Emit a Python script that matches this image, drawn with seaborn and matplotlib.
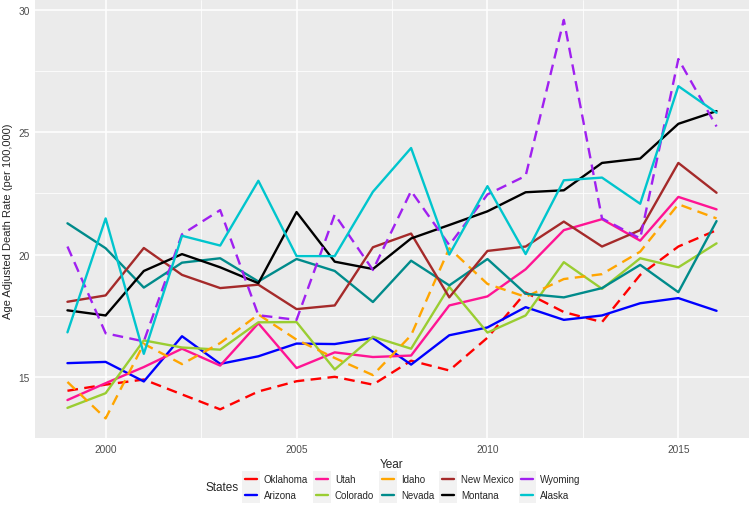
import matplotlib
matplotlib.use("Agg")
import matplotlib.pyplot as plt
from matplotlib.lines import Line2D
from matplotlib.patches import Rectangle
from matplotlib.legend_handler import HandlerLine2D
from matplotlib.ticker import MultipleLocator
import pandas as pd
import seaborn as sns

# values
years = [1999, 2000, 2001, 2002, 2003, 2004, 2005, 2006, 2007,
         2008, 2009, 2010, 2011, 2012, 2013, 2014, 2015, 2016]

oklahoma = [14.43, 14.68, 14.89, 14.28, 13.67, 14.40, 14.82, 15.00, 14.68,
            15.66, 15.26, 16.60, 18.45, 17.65, 17.24, 19.17, 20.33, 21.00]
arizona = [15.56, 15.61, 14.81, 16.66, 15.53, 15.84, 16.36, 16.34, 16.59,
           15.50, 16.70, 17.02, 17.85, 17.33, 17.51, 18.01, 18.22, 17.70]
utah = [14.05, 14.74, 15.40, 16.15, 15.46, 17.19, 15.36, 16.00, 15.81,
        15.87, 17.92, 18.29, 19.40, 21.00, 21.45, 20.57, 22.36, 21.85]
colorado = [13.73, 14.33, 16.49, 16.20, 16.11, 17.23, 17.24, 15.30, 16.64,
            16.15, 18.68, 16.81, 17.51, 19.69, 18.60, 19.85, 19.48, 20.46]
idaho = [14.79, 13.30, 16.35, 15.52, 16.38, 17.55, 16.52, 15.77, 15.07,
         16.70, 20.26, 18.80, 18.27, 19.00, 19.20, 20.12, 22.06, 21.48]
nevada = [21.28, 20.26, 18.65, 19.67, 19.85, 18.90, 19.82, 19.33, 18.06,
          19.75, 18.74, 19.82, 18.40, 18.25, 18.63, 19.58, 18.46, 21.37]
new_mexico = [18.07, 18.33, 20.27, 19.17, 18.63, 18.77, 17.77, 17.92, 20.30,
              20.86, 18.25, 20.15, 20.33, 21.35, 20.33, 21.00, 23.75, 22.53]
montana = [17.72, 17.51, 19.33, 20.02, 19.48, 18.83, 21.74, 19.71, 19.41,
           20.66, 21.21, 21.77, 22.55, 22.63, 23.75, 23.93, 25.35, 25.87]
wyoming = [20.33, 16.78, 16.45, 20.83, 21.82, 17.52, 17.33, 21.64, 19.37,
           22.60, 20.39, 22.46, 23.22, 29.60, 21.48, 20.66, 28.00, 25.24]
alaska = [16.82, 21.48, 15.94, 20.77, 20.37, 23.02, 19.94, 19.94, 22.57,
          24.36, 20.00, 22.80, 20.02, 23.04, 23.15, 22.08, 26.89, 25.80]

states = ["Oklahoma", "Arizona", "Utah", "Colorado", "Idaho",
          "Nevada", "New Mexico", "Montana", "Wyoming", "Alaska"]
colors = ["#FF0000", "#0000FF", "#FF1493", "#9ACD32", "#FFA500",
          "#008B8B", "#A52A2A", "#000000", "#A020F0", "#00C5CD"]
dashed_states = ["Oklahoma", "Idaho", "Wyoming"]

rates = dict(zip(states, [oklahoma, arizona, utah, colorado, idaho,
                          nevada, new_mexico, montana, wyoming, alaska]))
df = pd.concat(
    [pd.DataFrame({"Year": years, "Rate": rates[s], "State": s}) for s in states],
    ignore_index=True,
)


class KeyHandler(HandlerLine2D):
    """legend line drawn on a light grey key box, like ggplot"""

    def create_artists(self, legend, orig_handle, xdescent, ydescent,
                       width, height, fontsize, trans):
        artists = super().create_artists(legend, orig_handle, xdescent, ydescent,
                                         width, height, fontsize, trans)
        box_h = 11.5
        cy = height / 2 - ydescent
        rect = Rectangle((-xdescent - 2.0, cy - box_h / 2), width + 4.0, box_h,
                         facecolor="#F2F2F2", edgecolor="none", transform=trans)
        return [rect] + list(artists)


sns.set_theme(style="darkgrid")
plt.rcParams["font.family"] = ["Liberation Sans", "DejaVu Sans"]

W, H = 750, 506
fig = plt.figure(figsize=(W / 100, H / 100), dpi=100)
ax = fig.add_axes([35 / W, 1 - 439.3 / H, 714 / W, 438.3 / H])
ax.set_facecolor("#EBEBEB")

palette = dict(zip(states, colors))
dashes = {s: (4.5, 2.7) if s in dashed_states else "" for s in states}
sns.lineplot(data=df, x="Year", y="Rate", hue="State", style="State",
             palette=palette, dashes=dashes, linewidth=1.7,
             errorbar=None, legend=False, ax=ax)

# ggplot-like 5% expansion
xs = df["Year"].max() - df["Year"].min()
ys = df["Rate"].max() - df["Rate"].min()
ax.set_xlim(df["Year"].min() - 0.05 * xs, df["Year"].max() + 0.05 * xs)
ax.set_ylim(df["Rate"].min() - 0.05 * ys, df["Rate"].max() + 0.05 * ys)

ax.xaxis.set_major_locator(MultipleLocator(5))
ax.xaxis.set_minor_locator(MultipleLocator(2.5))
ax.yaxis.set_major_locator(MultipleLocator(5))
ax.yaxis.set_minor_locator(MultipleLocator(2.5))
ax.grid(which="major", color="white", linewidth=1.1)
ax.grid(which="minor", color="white", linewidth=0.55)
ax.set_axisbelow(True)
for sp in ax.spines.values():
    sp.set_visible(False)
ax.tick_params(which="major", length=2.5, width=0.8, color="#333333",
               labelsize=7.3, labelcolor="#4D4D4D", pad=1.5)
ax.tick_params(which="minor", length=0)
ax.set_xlabel("")
ax.set_ylabel("")

fig.text(392 / W, 1 - 465 / H, "Year", fontsize=8.5, ha="center", va="center")
fig.text(8 / W, 1 - 221 / H, "Age Adjusted Death Rate (per 100,000)",
         fontsize=8, rotation=90, ha="center", va="center")

handles = [Line2D([0], [0], color=c, lw=1.7) for c in colors]
fig.legend(handles, states, ncol=5, loc="center left",
           bbox_to_anchor=(245 / W, 1 - 488 / H), frameon=False, fontsize=7.0,
           handlelength=1.25, handletextpad=0.7, columnspacing=0.8,
           labelspacing=0.6, borderpad=0, borderaxespad=0,
           handler_map={Line2D: KeyHandler()})
fig.text(205 / W, 1 - 488 / H, "States", fontsize=8.5, ha="left", va="center")

fig.savefig("out.png", dpi=100)
